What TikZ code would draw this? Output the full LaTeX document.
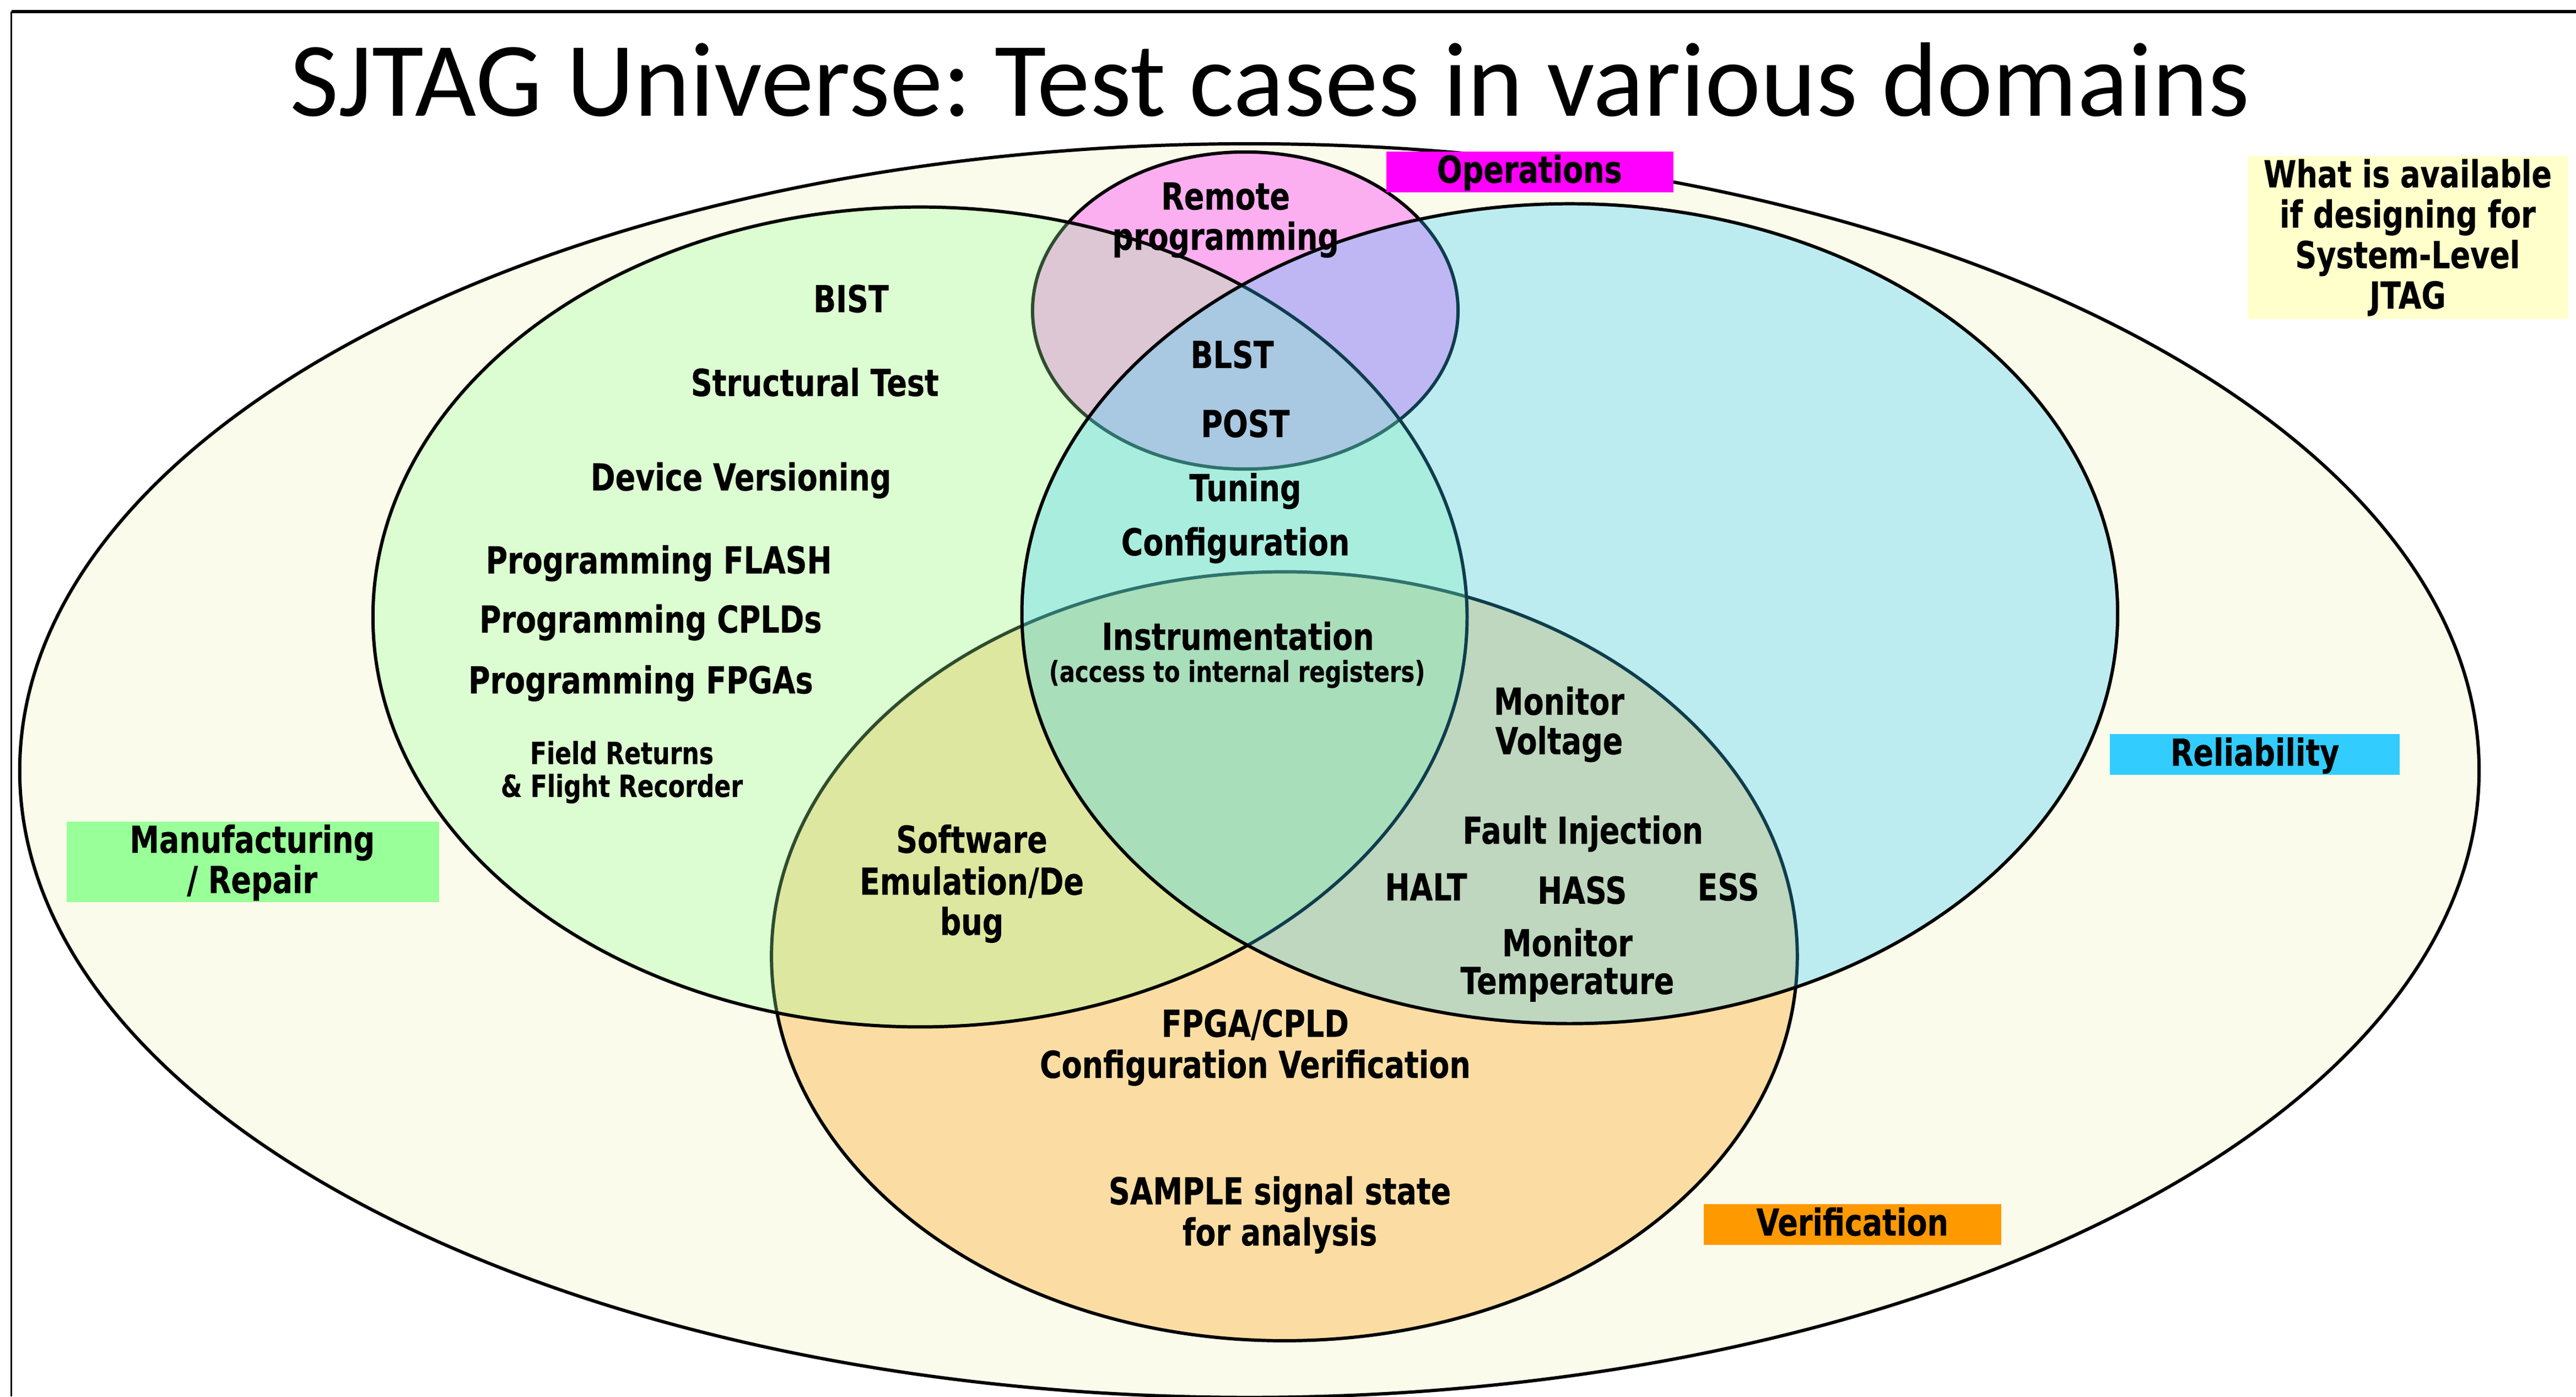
\documentclass[tikz,border=0pt]{standalone}
\usepackage{fontspec}
\newfontfamily\lblfont[FakeStretch=0.8, BoldFeatures={FakeBold=0.4}]{DejaVu Sans}
\newfontfamily\titlefont{Carlito}
\definecolor{cream}{HTML}{FAFBEA}
\definecolor{cMag}{HTML}{FF00FF}
\definecolor{cCyan}{HTML}{33CCFF}
\definecolor{cGreen}{HTML}{99FF99}
\definecolor{cOrange}{HTML}{FF9900}
\definecolor{cYellow}{HTML}{FFFFCC}
\frenchspacing
\begin{document}
\begin{tikzpicture}[x=1pt,y=-1pt,
  setshape/.style={draw=black, line width=2pt, fill opacity=0.3},
  lbl/.style={font=\lblfont\bfseries\fontsize{22.6pt}{25pt}\selectfont, inner sep=0pt, anchor=base},
  smlbl/.style={font=\lblfont\bfseries\fontsize{18.5pt}{20pt}\selectfont, inner sep=0pt, anchor=base},
  acclbl/.style={font=\lblfont\bfseries\fontsize{17.5pt}{20pt}\selectfont, inner sep=0pt, anchor=base},
  tagbox/.style={inner sep=0pt, draw=none, anchor=north west}]
\useasboundingbox (0,0) rectangle (1568,850);
\fill[white] (0,0) rectangle (1568,850);
% frame
\draw[line width=2pt] (7,7) -- (1568,7);
\draw[line width=1pt] (7,7) -- (7,850);
% title
\node[font=\titlefont\fontsize{64.4pt}{70pt}\selectfont, anchor=base, inner sep=0pt] (title) at (773,70.5) {SJTAG Universe: Test cases in various domains};
% universe
\path[draw=black, line width=2pt, fill=cream] (760.5,469) ellipse [x radius=748.5pt, y radius=381.5pt];
% domains
\path[setshape, fill=cMag] (758,189) ellipse [x radius=129.5pt, y radius=96.5pt];
\path[setshape, fill=cOrange] (781.8,582) ellipse [x radius=312.2pt, y radius=234pt];
\path[setshape, fill=cGreen] (560,375.5) ellipse [x radius=333pt, y radius=249.5pt];
\path[setshape, fill=cCyan] (955.5,373.5) ellipse [x radius=333.5pt, y radius=249.5pt];
% domain tags
\node[tagbox, fill=cMag, minimum width=175pt, minimum height=25pt] (opsbox) at (843.5,92) {};
\node[lbl] (ops) at (931,111.2) {Operations};
\node[tagbox, fill=cYellow, minimum width=195pt, minimum height=99.5pt] (availbox) at (1368,94.6) {};
\node[lbl] (avail1) at (1465.5,114) {What is available};
\node[lbl] (avail2) at (1465.5,138.5) {if designing for};
\node[lbl] (avail3) at (1465.5,163.2) {System-Level};
\node[lbl] (avail4) at (1465.5,187.8) {JTAG};
\node[tagbox, fill=cCyan, minimum width=176.5pt, minimum height=24.8pt] (relbox) at (1284,446.7) {};
\node[lbl] (rel) at (1372.5,466) {Reliability};
\node[tagbox, fill=cGreen, minimum width=226.5pt, minimum height=49pt] (mfgbox) at (40.5,500) {};
\node[lbl] (mfg1) at (153.5,519) {Manufacturing};
\node[lbl] (mfg2) at (153.5,543.5) {/ Repair};
\node[tagbox, fill=cOrange, minimum width=181pt, minimum height=25pt] (verbox) at (1037,732.5) {};
\node[lbl] (ver) at (1127.5,752) {Verification};
% operations
\node[lbl] (remote1) at (746,127.5) {Remote};
\node[lbl] (remote2) at (746,152) {programming};
% manufacturing
\node[lbl] (bist) at (518,190) {BIST};
\node[lbl] (struct) at (496,241) {Structural Test};
\node[lbl] (devver) at (451,298.5) {Device Versioning};
\node[lbl] (pflash) at (401,349) {Programming FLASH};
\node[lbl] (pcpld) at (396,385) {Programming CPLDs};
\node[lbl] (pfpga) at (390,422) {Programming FPGAs};
\node[smlbl] (field1) at (378.5,465) {Field Returns};
\node[smlbl] (field2) at (378.5,485) {\& Flight Recorder};
% intersections
\node[lbl] (blst) at (750,224) {BLST};
\node[lbl] (post) at (758,266) {POST};
\node[lbl] (tuning) at (758,305) {Tuning};
\node[lbl] (config) at (752,338) {Configuration};
\node[lbl] (instr) at (753.5,395.5) {Instrumentation};
\node[acclbl] (access) at (753,415) {(access to internal registers)};
% reliability / verification
\node[lbl] (monv1) at (949,435) {Monitor};
\node[lbl] (monv2) at (949,459) {Voltage};
\node[lbl] (fault) at (963.5,513.5) {Fault Injection};
\node[lbl] (halt) at (868,548) {HALT};
\node[lbl] (hass) at (963,550) {HASS};
\node[lbl] (ess) at (1052,548) {ESS};
\node[lbl] (mont1) at (954,582) {Monitor};
\node[lbl] (mont2) at (954,605) {Temperature};
\node[lbl] (sw1) at (591.5,519) {Software};
\node[lbl] (sw2) at (591.5,544.5) {Emulation/De};
\node[lbl] (sw3) at (591.5,569) {bug};
\node[lbl] (fpga1) at (764,631) {FPGA/CPLD};
\node[lbl] (fpga2) at (764,656) {Configuration Verification};
\node[lbl] (sample1) at (779,733) {SAMPLE signal state};
\node[lbl] (sample2) at (779,758) {for analysis};
\end{tikzpicture}
\end{document}
